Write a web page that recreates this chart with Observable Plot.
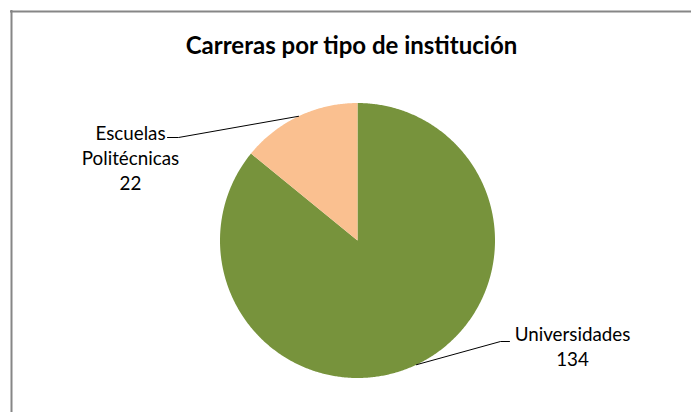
<!DOCTYPE html>
<html><head><meta charset="utf-8">
<script src="https://cdn.jsdelivr.net/npm/d3@7"></script>
<script src="https://cdn.jsdelivr.net/npm/@observablehq/plot@0.6"></script>
<style>body{margin:0;background:#fff} svg{display:block}</style>
</head><body><div id="chart"></div>
<script>
const categories = ["Universidades", "Escuelas Politécnicas"];
const values = [134, 22];
const colors = ["#77933C", "#FAC090"];
const title = "Carreras por tipo de institución";

// layout
const W = 691, H = 412;
const cx = 357, cy = 240, R = 137.5;
const labelLayout = {
  "Universidades": {x: 572, y: 365, elbow: [500, 341], end: [509, 341]},
  "Escuelas Politécnicas": {x: 130, y: 189, elbow: [178, 137], end: [167, 137]}
};

const rows = categories.map((c, i) => ({category: c, value: values[i]}));
const arcs = d3.pie().sort(null).value(d => d.value)(rows);

const slicePts = arcs.flatMap(a => {
  const c = a.data.category;
  const n = Math.max(2, Math.ceil((a.endAngle - a.startAngle) / (Math.PI / 360)));
  const pts = [{category: c, x: cx, y: cy}];
  for (let k = 0; k <= n; k++) {
    const t = a.startAngle + (a.endAngle - a.startAngle) * k / n;
    pts.push({category: c, x: cx + R * Math.sin(t), y: cy - R * Math.cos(t)});
  }
  pts.push({category: c, x: cx, y: cy});
  return pts;
});

const leaderPts = arcs.flatMap(a => {
  const c = a.data.category;
  const m = (a.startAngle + a.endAngle) / 2;
  const L = labelLayout[c];
  return [
    {category: c, x: cx + R * Math.sin(m), y: cy - R * Math.cos(m)},
    {category: c, x: L.elbow[0], y: L.elbow[1]},
    {category: c, x: L.end[0], y: L.end[1]}
  ];
});

const labels = arcs.map(a => {
  const c = a.data.category;
  const L = labelLayout[c];
  return {x: L.x, y: L.y, text: c.replace(" ", "\n") + "\n" + a.data.value};
});

const chart = Plot.plot({
  width: W, height: H,
  margin: 0,
  style: {fontFamily: "Lato, sans-serif", background: "#fff"},
  x: {domain: [0, W], range: [0, W], axis: null},
  y: {domain: [0, H], range: [0, H], axis: null},
  color: {domain: categories, range: colors},
  marks: [
    Plot.ruleX([11], {y1: 10, y2: H, stroke: "#868686", strokeWidth: 2}),
    Plot.ruleY([11], {x1: 10, x2: W, stroke: "#868686", strokeWidth: 2}),
    Plot.line(slicePts, {x: "x", y: "y", z: "category", fill: "category", stroke: "none", curve: "linear"}),
    Plot.line(leaderPts, {x: "x", y: "y", z: "category", stroke: "#000", strokeWidth: 1}),
    Plot.text(labels, {x: "x", y: "y", text: "text", textAnchor: "middle", lineAnchor: "bottom", lineHeight: 1.32, fontSize: 18.8, fill: "#000"}),
    Plot.text([title], {x: () => 351, y: () => 53, text: d => d, textAnchor: "middle", lineAnchor: "bottom", fontSize: 24, fontWeight: "bold", fill: "#000"})
  ]
});
document.getElementById("chart").append(chart);
</script>
</body></html>
